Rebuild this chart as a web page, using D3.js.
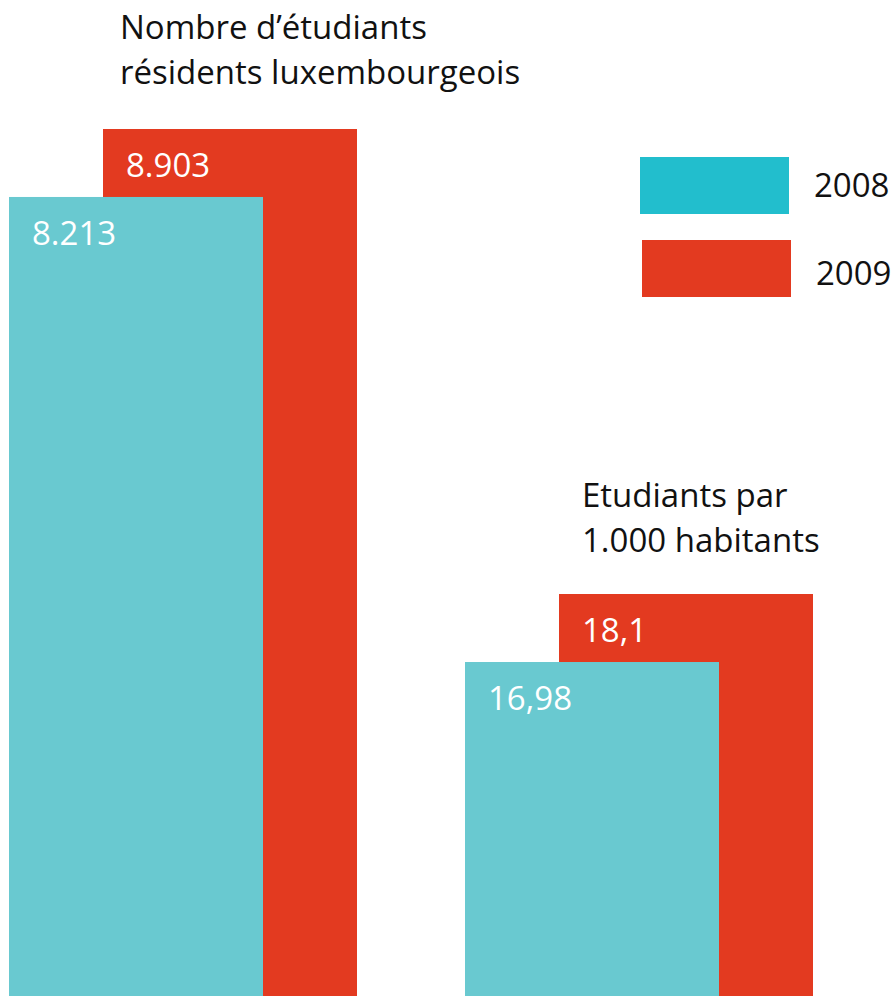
<!DOCTYPE html>
<html>
<head>
<meta charset="utf-8">
<script src="https://cdn.jsdelivr.net/npm/d3@7"></script>
<style>
  html, body { margin: 0; padding: 0; background: #fff; }
  svg { display: block; }
  text { font-family: "Open Sans", "Noto Sans", sans-serif; }
</style>
</head>
<body>
<svg id="chart" width="895" height="996"></svg>
<script>
// Two panels, each with its own vertical scale
const groups = ["etudiants", "parMille"];
const groupTitles = [
  ["Nombre d\u2019étudiants", "résidents luxembourgeois"],
  ["Etudiants par", "1.000 habitants"]
];
const years = ["2008", "2009"];
const values2008 = [8213, 16.98];
const values2009 = [8903, 18.1];
const valueLabels2008 = ["8.213", "16,98"];
const valueLabels2009 = ["8.903", "18,1"];

const barColors = { "2008": "#69c9d0", "2009": "#e33a20" };
const legendColors = { "2008": "#22becd", "2009": "#e33a20" };

const W = 895, H = 996;
const svg = d3.select("#chart");

// Group placement
const x = d3.scaleBand().domain(groups).range([9, 9 + 456 * 2]).paddingInner(0);
const barW = 254, offset2009 = 94;

// Per-panel value scales
const yScales = {
  etudiants: d3.scaleLinear().domain([0, 8903]).range([1006, 129]),
  parMille: d3.scaleLinear().domain([11.48, 18.1]).range([996, 594])
};

const rows = groups.map((g, i) => ({
  g, i,
  bars: [
    { year: "2009", v: values2009[i], label: valueLabels2009[i], dx: offset2009 },
    { year: "2008", v: values2008[i], label: valueLabels2008[i], dx: 0 }
  ]
}));

const gGroups = svg.selectAll("g.group").data(rows).join("g").attr("class", "group");

gGroups.each(function(d) {
  const g = d3.select(this);
  const y = yScales[d.g];
  const base = y.range()[0];
  const x0 = x(d.g);
  d.bars.forEach(b => {
    g.append("rect")
      .attr("x", x0 + b.dx)
      .attr("y", y(b.v))
      .attr("width", barW)
      .attr("height", base - y(b.v))
      .attr("fill", barColors[b.year]);
    g.append("text")
      .attr("x", x0 + b.dx + 23)
      .attr("y", y(b.v) + 48)
      .attr("fill", "#fff")
      .attr("font-size", 33)
      .text(b.label);
  });
});

// Panel titles
const titlePos = [{ x: 120, y: 39 }, { x: 582, y: 507 }];
groupTitles.forEach((lines, i) => {
  const t = svg.append("text")
    .attr("x", titlePos[i].x)
    .attr("y", titlePos[i].y)
    .attr("fill", "#111")
    .attr("font-size", 33);
  lines.forEach((line, j) => {
    t.append("tspan").attr("x", titlePos[i].x).attr("dy", j === 0 ? 0 : 45).text(line);
  });
});

// Legend
const legend = [
  { year: "2008", rx: 640, ry: 157, tx: 814, ty: 197 },
  { year: "2009", rx: 642, ry: 240, tx: 816, ty: 285 }
];
const lg = svg.append("g").attr("class", "legend");
legend.forEach(l => {
  lg.append("rect").attr("x", l.rx).attr("y", l.ry).attr("width", 149).attr("height", 57)
    .attr("fill", legendColors[l.year]);
  lg.append("text").attr("x", l.tx).attr("y", l.ty).attr("fill", "#111")
    .attr("font-size", 33).text(l.year);
});
</script>
</body>
</html>
